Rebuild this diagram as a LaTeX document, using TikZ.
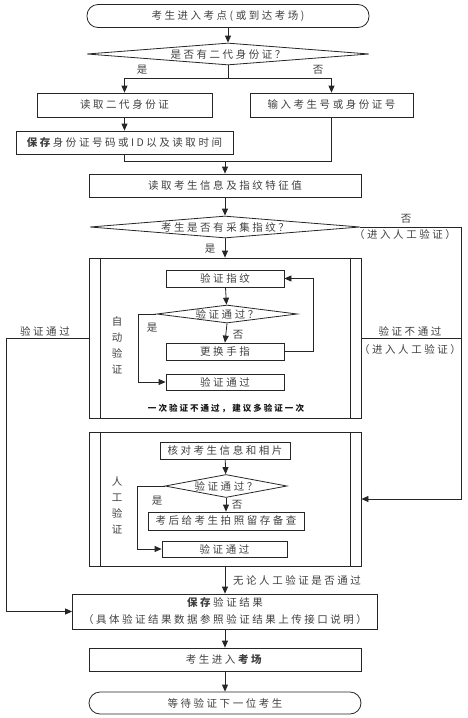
\documentclass[tikz,border=0pt]{standalone}
\usepackage{fontspec}
\setmainfont{Noto Sans CJK SC}[LetterSpace=24]
\usepackage{tikz}
\usetikzlibrary{arrows.meta,shapes.geometric,positioning,calc}

\begin{document}
\begin{tikzpicture}[x=1pt, y=-1pt,
  every node/.style={font=\fontsize{10.5}{12}\selectfont, text=black!75},
  box/.style={draw=black!85, line width=0.8pt, inner sep=0pt, minimum height=23pt},
  term/.style={box, rounded corners=11pt},
  decide/.style={diamond, draw=black!85, line width=0.8pt, inner sep=0pt,
                 text height=9pt, text depth=1pt},
  subproc/.style={draw=black!85, line width=0.8pt, inner sep=0pt},
  lab/.style={inner sep=1pt},
  vlab/.style={lab, align=center, font=\fontsize{10.5}{16}\selectfont},
  flow/.style={draw=black!85, line width=0.8pt},
  arr/.style={flow, -{Triangle[length=7pt,width=6pt]}}]

\useasboundingbox (0,0) rectangle (467,718);

%% ── Hardcoded positions (pt, 1pt = 1px of the page) ─────────────────────────
% main column x=225, right return x=461, left return x=6

%% ── Entry and ID card ────────────────────────────────────────────────────────
\node[term, minimum width=282pt] (start) at (228,16) {考生进入考点(或到达考场)};
\node[decide, aspect=12.8, minimum width=282pt, minimum height=22pt] (hasid) at (228,54)
  {是否有二代身份证？};
\coordinate (split) at (228,78);
\node[box, minimum width=175pt, minimum height=24pt] (readid) at (124.5,105)
  {读取二代身份证};
\node[box, minimum width=163pt, minimum height=24pt] (inputno) at (331.5,105)
  {输入考生号或身份证号};
\node[box, minimum width=217pt] (saveid) at (124.5,142.5)
  {\textbf{保存}身份证号码或ID以及读取时间};
\coordinate (join) at (225,161);

\draw[arr] (start) -- (hasid);
\draw[flow] (hasid.south) -- (split);
\draw[arr] (split) -| (readid.north);
\draw[arr] (split) -| (inputno.north);
\node[lab] at (142,70) {是};
\node[lab] at (318,70) {否};
\draw[arr] (readid) -- (saveid);
\draw[flow] (saveid.south) |- (join);
\draw[flow] (inputno.south) |- (join);

%% ── Student info and fingerprint check ───────────────────────────────────────
\node[box, minimum width=272pt] (readinfo) at (225,185.5) {读取考生信息及指纹特征值};
\node[decide, aspect=12.3, minimum width=270pt, minimum height=22pt] (hasfp) at (225,227)
  {考生是否有采集指纹？};
\draw[arr] (join) -- (readinfo.north);
\draw[arr] (readinfo) -- (hasfp);

%% ── Automatic verification ───────────────────────────────────────────────────
\node[subproc, minimum width=272pt, minimum height=160pt] (auto) at (225,338) {};
\draw[flow] ([xshift=12pt]auto.north west) -- ([xshift=12pt]auto.south west);
\draw[flow] ([xshift=-11pt]auto.north east) -- ([xshift=-11pt]auto.south east);
\draw[arr] (hasfp) -- (auto);
\node[lab] at (210,249) {是};
\node[vlab] at (117,345) {自\\动\\验\\证};

\node[box, minimum width=118pt, minimum height=17pt] (chkfp) at (225,278.5) {验证指纹};
\node[decide, aspect=7.8, minimum width=140pt, minimum height=18pt] (fpok) at (227,314)
  {验证通过？};
\node[box, minimum width=118pt, minimum height=17pt] (swap) at (225,351.5) {更换手指};
\node[box, minimum width=118pt, minimum height=16pt] (pass1) at (225,382) {验证通过};
\coordinate (loopr) at (313,351.5);
\coordinate (loopl) at (138,314);

\draw[arr] (chkfp) -- (fpok);
\draw[arr] (fpok.south) -- (swap.north);
\node[lab] at (238,335) {否};
\draw[arr] (swap.east) -- (loopr) |- (chkfp.east);
\draw[arr] (fpok.west) -- (loopl) |- (pass1.west);
\node[lab] at (152,328) {是};
\node[font=\fontsize{8.5}{10}\selectfont\bfseries, text=black!90] (hint) at (226,408)
  {一次验证不通过，建议多验证一次};

%% ── Manual verification ──────────────────────────────────────────────────────
\node[subproc, minimum width=272pt, minimum height=134pt] (manual) at (225,499) {};
\draw[flow] ([xshift=12pt]manual.north west) -- ([xshift=12pt]manual.south west);
\draw[flow] ([xshift=-11pt]manual.north east) -- ([xshift=-11pt]manual.south east);
\node[vlab] at (117,505) {人\\工\\验\\证};

\node[box, minimum width=130pt, minimum height=17pt] (chkinfo) at (225,450.5)
  {核对考生信息和相片};
\node[decide, aspect=5.3, minimum width=122pt, minimum height=23pt] (manok) at (226,486)
  {验证通过？};
\node[box, minimum width=156pt, minimum height=18pt] (photo) at (226,521)
  {考后给考生拍照留存备查};
\node[box, minimum width=125pt, minimum height=16pt] (pass2) at (224.5,549) {验证通过};
\coordinate (manl) at (137,486);

\draw[arr] (chkinfo) -- (manok);
\draw[arr] (manok) -- (photo);
\node[lab] at (237,505) {否};
\draw[arr] (manok.west) -- (manl) |- (pass2.west);
\node[lab] at (157,501) {是};

%% ── Return paths ─────────────────────────────────────────────────────────────
\coordinate (rbend) at (461,227);
\coordinate (lbend) at (6,338);
\draw[arr] (hasfp.east) -- (rbend) |- (manual.east);
\node[lab] at (406,219) {否};
\node[lab] at (405,235) {（进入人工验证）};
\draw[flow] (auto.east) -- (auto.east -| rbend);
\node[lab] at (410,331) {验证不通过};
\node[lab] at (410,350) {（进入人工验证）};

%% ── Save result and finish ───────────────────────────────────────────────────
\node[box, minimum width=305pt, minimum height=35pt, align=center,
      font=\fontsize{10.5}{17}\selectfont] (saveres) at (225,611.5)
  {\textbf{保存}验证结果\\（具体验证结果数据参照验证结果上传接口说明）};
\node[box, minimum width=272pt] (enter) at (225,659.5) {考生进入\textbf{考场}};
\node[term, minimum width=272pt, minimum height=22pt] (finish) at (225,703)
  {等待验证下一位考生};

\draw[arr] (auto.west) -- (lbend) |- (saveres.west);
\node[lab] at (45,331) {验证通过};
\draw[arr] (manual) -- (saveres);
\node[lab, anchor=west] at (232,580) {无论人工验证是否通过};
\draw[arr] (saveres) -- (enter);
\draw[arr] (enter) -- (finish);

\end{tikzpicture}
\end{document}
